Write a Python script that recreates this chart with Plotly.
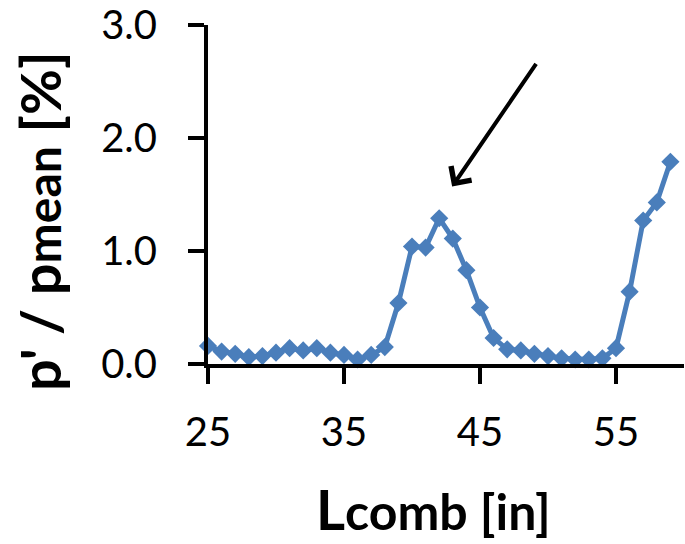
import plotly.graph_objects as go

# Data
l_comb = list(range(25, 60))
p_ratio = [0.16, 0.11, 0.09, 0.06, 0.07, 0.10, 0.14, 0.12, 0.14, 0.10,
           0.08, 0.04, 0.08, 0.15, 0.54, 1.04, 1.03, 1.29, 1.11, 0.83,
           0.50, 0.23, 0.13, 0.12, 0.09, 0.07, 0.05, 0.04, 0.04, 0.05,
           0.14, 0.64, 1.27, 1.43, 1.79]
x_ticks = [25, 35, 45, 55]
y_ticks = [0, 1, 2, 3]
y_tick_text = ["0.0", "1.0", "2.0", "3.0"]

# arrow annotation (data coordinates)
arrow_tip = (42.95, 1.57)
arrow_tail = (49.2, 2.67)

FONT = "Lato, 'Open Sans', sans-serif"
BLUE = "#4A7EBB"

fig = go.Figure()
fig.add_trace(go.Scatter(
    x=l_comb, y=p_ratio, mode="lines+markers",
    line=dict(color=BLUE, width=5),
    marker=dict(symbol="diamond", size=14, color=BLUE),
    cliponaxis=False, showlegend=False,
))

axis_common = dict(
    showline=True, linecolor="black", linewidth=4,
    ticks="outside", ticklen=16, tickwidth=4, tickcolor="black",
    showgrid=False, zeroline=False,
    tickfont=dict(family=FONT, size=40, color="black"),
)

fig.update_xaxes(range=[25, 60], tickvals=x_ticks, ticklabelstandoff=14, **axis_common)
fig.update_yaxes(range=[0, 3], tickvals=y_ticks, ticktext=y_tick_text, ticklabelstandoff=23, **axis_common)

fig.add_annotation(
    x=arrow_tip[0], y=arrow_tip[1], ax=arrow_tail[0], ay=arrow_tail[1],
    xref="x", yref="y", axref="x", ayref="y",
    text="", showarrow=True, arrowhead=4, arrowsize=1.2, arrowwidth=4,
    arrowcolor="black",
)

# axis titles
fig.add_annotation(
    xref="paper", yref="paper", x=0.473, y=-0.531,
    xanchor="center", yanchor="bottom", showarrow=False,
    text="<b><span style='font-size:56px'>L</span>comb [in]</b>",
    font=dict(family=FONT, size=50, color="black"),
)
fig.add_annotation(
    xref="paper", yref="paper", x=-0.353, y=0.422,
    xanchor="center", yanchor="middle", showarrow=False, textangle=-90,
    text="<b>p' / p<span style='font-size:48px'>mean</span> [%]</b>",
    font=dict(family=FONT, size=56, color="black"),
)

fig.update_layout(
    width=685, height=544,
    margin=dict(l=208, r=1, t=25, b=180),
    paper_bgcolor="white", plot_bgcolor="white",
)

fig.write_html("out.html")
